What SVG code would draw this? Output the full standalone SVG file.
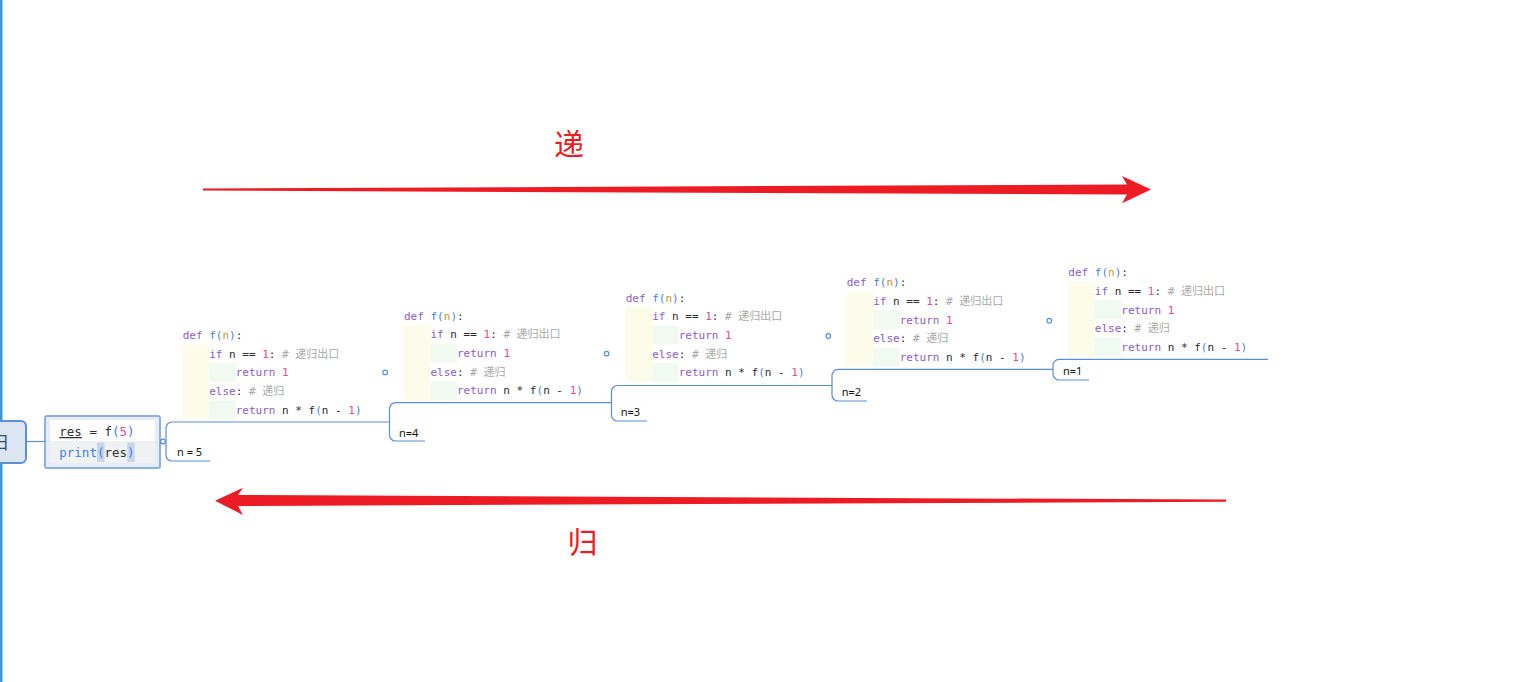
<svg xmlns="http://www.w3.org/2000/svg" width="1515" height="682" viewBox="0 0 1515 682">
<style>
.c{font-family:"DejaVu Sans Mono","Noto Sans CJK SC",monospace;font-size:11px;fill:#2b2b2b}
.r{font-family:"DejaVu Sans Mono","Noto Sans CJK SC",monospace;font-size:12.5px;fill:#333}
.kw{fill:#8a5cc7}
.fn{fill:#3f7fe6}
.pa{fill:#c8962c}
.num{fill:#e2508e}
.cm{fill:#a8a8a8}
.lab{font-family:"Noto Sans","Noto Sans CJK SC",sans-serif;font-size:11px;fill:#111}
.yl{fill:#fdfbea}
.gr{fill:#f0faf0}
.ln{fill:none;stroke:#5a8fd6;stroke-width:1.2}
.dot{fill:#fff;stroke:#5a8fd6;stroke-width:1.2}
.red{fill:#ed1c24}
.big{font-family:"Noto Sans CJK SC",sans-serif;font-size:30px;fill:#ed1c24;text-anchor:middle}
</style>
<rect width="1515" height="682" fill="#ffffff"/>
<rect x="0" y="0" width="2.5" height="682" fill="#3a97db"/>

<g id="root-node">
<rect x="-20" y="421" width="46" height="42" rx="5" fill="#dce5f2" stroke="#5c8fd3" stroke-width="2"/>
<text x="-10" y="449" font-family="Noto Sans CJK SC,sans-serif" font-size="18" fill="#2f4f6f">归</text>
</g>

<g id="res-node" xml:space="preserve">
<rect x="45" y="416" width="115" height="52" rx="2" fill="#e6edf7" stroke="#8cb0e0" stroke-width="2"/>
<rect x="50" y="420" width="105" height="43" fill="#ffffff"/>
<rect x="50" y="441" width="105" height="22" fill="#f0f1f3"/>
<rect x="97" y="442.5" width="7.5" height="19.5" fill="#c8d5ea"/>
<rect x="127.2" y="442.5" width="7.5" height="19.5" fill="#c8d5ea"/>
<text class="r" x="59.3" y="436"><tspan text-decoration="underline">res</tspan> = f<tspan class="fn">(</tspan><tspan class="num">5</tspan><tspan class="fn">)</tspan></text>
<text class="r" x="59.3" y="456.5"><tspan class="fn">print(</tspan>res<tspan class="fn">)</tspan></text>
</g>

<g id="connectors">
<path class="ln" d="M26,441.5 H45"/>
<path class="ln" d="M160,441.5 H166"/>
<path class="ln" d="M389.5,422 H172 A6,6 0 0 0 166,428 V455 A6,6 0 0 0 172,461 H210"/>
<path class="ln" d="M611.5,402.7 H395.5 A6,6 0 0 0 389.5,408.7 V435 A6,6 0 0 0 395.5,441 H425"/>
<path class="ln" d="M832,385.5 H617.5 A6,6 0 0 0 611.5,391.5 V415 A6,6 0 0 0 617.5,421 H647"/>
<path class="ln" d="M1053,369.3 H838 A6,6 0 0 0 832,375.3 V395 A6,6 0 0 0 838,401 H867"/>
<path class="ln" d="M1268,359.3 H1059 A6,6 0 0 0 1053,365.3 V374 A6,6 0 0 0 1059,380 H1089"/>
<circle class="dot" cx="163" cy="441.5" r="2.3"/>
<circle class="dot" cx="385.2" cy="372.4" r="2.3"/>
<circle class="dot" cx="606.6" cy="353.6" r="2.3"/>
<circle class="dot" cx="828.3" cy="336" r="2.3"/>
<circle class="dot" cx="1049.3" cy="320.7" r="2.3"/>
</g>

<g id="f-n5" xml:space="preserve">
<g transform="translate(182.7,335)">
<rect class="yl" x="0" y="9.35" width="26.5" height="74.8"/>
<rect class="gr" x="26.5" y="28.05" width="26.5" height="18.7"/>
<rect class="gr" x="26.5" y="65.45" width="26.5" height="18.7"/>
<text class="c" x="0" y="4"><tspan class="kw">def</tspan> <tspan class="fn">f(</tspan><tspan class="pa">n</tspan><tspan class="fn">)</tspan>:</text>
<text class="c" x="26.5" y="22.7"><tspan class="kw">if</tspan> n == <tspan class="num">1</tspan>: <tspan class="cm"># 递归出口</tspan></text>
<text class="c" x="53" y="41.4"><tspan class="kw">return</tspan> <tspan class="num">1</tspan></text>
<text class="c" x="26.5" y="60.1"><tspan class="kw">else</tspan>: <tspan class="cm"># 递归</tspan></text>
<text class="c" x="53" y="78.8"><tspan class="kw">return</tspan> n * f<tspan class="fn">(</tspan>n - <tspan class="num">1</tspan><tspan class="fn">)</tspan></text>
</g>
<text class="lab" x="177" y="456">n = 5</text>
</g>

<g id="f-n4" xml:space="preserve">
<g transform="translate(404,315.7)">
<rect class="yl" x="0" y="9.35" width="26.5" height="74.8"/>
<rect class="gr" x="26.5" y="28.05" width="26.5" height="18.7"/>
<rect class="gr" x="26.5" y="65.45" width="26.5" height="18.7"/>
<text class="c" x="0" y="4"><tspan class="kw">def</tspan> <tspan class="fn">f(</tspan><tspan class="pa">n</tspan><tspan class="fn">)</tspan>:</text>
<text class="c" x="26.5" y="22.7"><tspan class="kw">if</tspan> n == <tspan class="num">1</tspan>: <tspan class="cm"># 递归出口</tspan></text>
<text class="c" x="53" y="41.4"><tspan class="kw">return</tspan> <tspan class="num">1</tspan></text>
<text class="c" x="26.5" y="60.1"><tspan class="kw">else</tspan>: <tspan class="cm"># 递归</tspan></text>
<text class="c" x="53" y="78.8"><tspan class="kw">return</tspan> n * f<tspan class="fn">(</tspan>n - <tspan class="num">1</tspan><tspan class="fn">)</tspan></text>
</g>
<text class="lab" x="399" y="436.5">n=4</text>
</g>

<g id="f-n3" xml:space="preserve">
<g transform="translate(625.7,297.7)">
<rect class="yl" x="0" y="9.35" width="26.5" height="74.8"/>
<rect class="gr" x="26.5" y="28.05" width="26.5" height="18.7"/>
<rect class="gr" x="26.5" y="65.45" width="26.5" height="18.7"/>
<text class="c" x="0" y="4"><tspan class="kw">def</tspan> <tspan class="fn">f(</tspan><tspan class="pa">n</tspan><tspan class="fn">)</tspan>:</text>
<text class="c" x="26.5" y="22.7"><tspan class="kw">if</tspan> n == <tspan class="num">1</tspan>: <tspan class="cm"># 递归出口</tspan></text>
<text class="c" x="53" y="41.4"><tspan class="kw">return</tspan> <tspan class="num">1</tspan></text>
<text class="c" x="26.5" y="60.1"><tspan class="kw">else</tspan>: <tspan class="cm"># 递归</tspan></text>
<text class="c" x="53" y="78.8"><tspan class="kw">return</tspan> n * f<tspan class="fn">(</tspan>n - <tspan class="num">1</tspan><tspan class="fn">)</tspan></text>
</g>
<text class="lab" x="620.7" y="415.5">n=3</text>
</g>

<g id="f-n2" xml:space="preserve">
<g transform="translate(846.7,282.3)">
<rect class="yl" x="0" y="9.35" width="26.5" height="74.8"/>
<rect class="gr" x="26.5" y="28.05" width="26.5" height="18.7"/>
<rect class="gr" x="26.5" y="65.45" width="26.5" height="18.7"/>
<text class="c" x="0" y="4"><tspan class="kw">def</tspan> <tspan class="fn">f(</tspan><tspan class="pa">n</tspan><tspan class="fn">)</tspan>:</text>
<text class="c" x="26.5" y="22.7"><tspan class="kw">if</tspan> n == <tspan class="num">1</tspan>: <tspan class="cm"># 递归出口</tspan></text>
<text class="c" x="53" y="41.4"><tspan class="kw">return</tspan> <tspan class="num">1</tspan></text>
<text class="c" x="26.5" y="60.1"><tspan class="kw">else</tspan>: <tspan class="cm"># 递归</tspan></text>
<text class="c" x="53" y="78.8"><tspan class="kw">return</tspan> n * f<tspan class="fn">(</tspan>n - <tspan class="num">1</tspan><tspan class="fn">)</tspan></text>
</g>
<text class="lab" x="841.7" y="395.5">n=2</text>
</g>

<g id="f-n1" xml:space="preserve">
<g transform="translate(1068.3,272.3)">
<rect class="yl" x="0" y="9.35" width="26.5" height="74.8"/>
<rect class="gr" x="26.5" y="28.05" width="26.5" height="18.7"/>
<rect class="gr" x="26.5" y="65.45" width="26.5" height="18.7"/>
<text class="c" x="0" y="4"><tspan class="kw">def</tspan> <tspan class="fn">f(</tspan><tspan class="pa">n</tspan><tspan class="fn">)</tspan>:</text>
<text class="c" x="26.5" y="22.7"><tspan class="kw">if</tspan> n == <tspan class="num">1</tspan>: <tspan class="cm"># 递归出口</tspan></text>
<text class="c" x="53" y="41.4"><tspan class="kw">return</tspan> <tspan class="num">1</tspan></text>
<text class="c" x="26.5" y="60.1"><tspan class="kw">else</tspan>: <tspan class="cm"># 递归</tspan></text>
<text class="c" x="53" y="78.8"><tspan class="kw">return</tspan> n * f<tspan class="fn">(</tspan>n - <tspan class="num">1</tspan><tspan class="fn">)</tspan></text>
</g>
<text class="lab" x="1063" y="374.5">n=1</text>
</g>

<g id="arrow-di">
<polygon class="red" points="203,188.6 1127,184.5 1122,176 1151,189.4 1122,203.2 1127,194.5 203,190.6"/>
<text class="big" x="569" y="155">递</text>
</g>
<g id="arrow-gui">
<polygon class="red" points="1226,499.6 238,495 243,487.7 215,500.7 243,515 238,506 1226,501.8"/>
<text class="big" x="582.5" y="553">归</text>
</g>
</svg>
